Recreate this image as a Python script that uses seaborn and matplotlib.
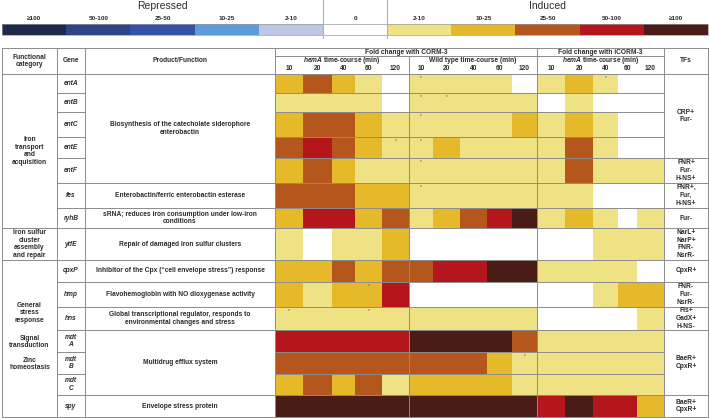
import numpy as np
import matplotlib
matplotlib.use("Agg")
import matplotlib.pyplot as plt
from matplotlib.colors import ListedColormap
import seaborn as sns

sns.set_theme(style="white")
plt.rcParams["font.family"] = ["Liberation Sans", "DejaVu Sans"]
plt.rcParams["mathtext.fontset"] = "custom"
plt.rcParams["mathtext.rm"] = "Liberation Sans:bold"
plt.rcParams["mathtext.bfit"] = "Liberation Sans:italic:bold"

# fold-change class: 0 none, 1 = 2-10, 2 = 10-25, 3 = 25-50, 4 = 50-100, 5 = >=100 (negative = repressed)
genes = ["entA", "entB", "entC", "entE", "entF", "fes", "ryhB", "ytfE", "cpxP",
         "hmp", "hns", "mdt\nA", "mdt\nB", "mdt\nC", "spy"]
times = ["10", "20", "40", "60", "120"]
corm3_hema = [
    [2, 3, 2, 1, 0], [1, 1, 1, 1, 0], [2, 3, 3, 2, 1], [3, 4, 3, 2, 1], [2, 3, 2, 1, 1],
    [3, 3, 3, 2, 2], [2, 4, 4, 2, 3], [1, 0, 1, 1, 2], [2, 2, 3, 2, 3], [2, 1, 2, 2, 4],
    [1, 1, 1, 1, 1], [4, 4, 4, 4, 4], [3, 3, 3, 3, 3], [2, 3, 2, 3, 1], [5, 5, 5, 5, 5],
]
corm3_wt = [
    [1, 1, 1, 1, 0], [1, 1, 1, 1, 1], [1, 1, 1, 1, 2], [1, 2, 1, 1, 1], [1, 1, 1, 1, 1],
    [1, 1, 1, 1, 1], [1, 2, 3, 4, 5], [0, 0, 0, 0, 0], [3, 4, 4, 5, 5], [0, 0, 0, 0, 0],
    [1, 1, 1, 1, 1], [5, 5, 5, 5, 3], [3, 3, 3, 2, 1], [2, 2, 2, 2, 1], [5, 5, 5, 5, 5],
]
icorm3_hema = [
    [1, 2, 1, 0, 0], [0, 1, 0, 0, 0], [1, 2, 1, 0, 0], [1, 3, 1, 0, 0], [1, 3, 1, 1, 1],
    [1, 1, 0, 0, 0], [1, 2, 1, 0, 1], [0, 0, 1, 1, 1], [1, 1, 1, 1, 0], [0, 0, 1, 2, 2],
    [0, 0, 0, 0, 1], [1, 1, 1, 1, 1], [1, 1, 1, 1, 1], [1, 1, 1, 1, 1], [4, 5, 4, 4, 2],
]
# cells marked with an asterisk (row, column)
starred = [(0, 5), (0, 12), (1, 5), (1, 6), (2, 5), (3, 4), (3, 5), (4, 5), (5, 5),
           (9, 3), (10, 0), (10, 3), (12, 9)]

legend_codes = [-5, -4, -3, -2, -1, 0, 1, 2, 3, 4, 5]
legend_labels = ["≥100", "50-100", "25-50", "10-25", "2-10", "0",
                 "2-10", "10-25", "25-50", "50-100", "≥100"]
colors = ["#1e2a4b", "#2e4484", "#3453a8", "#5e9bda", "#bcc8e6", "#ffffff",
          "#efe284", "#e5b92a", "#b5561d", "#b4161c", "#4a1c18"]

categories = [("Iron\ntransport\nand\nacquisition", 0, 7),
              ("Iron sulfur\ncluster\nassembly\nand repair", 7, 8)]
stress_labels = [("General\nstress\nresponse", 313), ("Signal\ntransduction", 342),
                 ("Zinc\nhomeostasis", 364)]
functions = [("Biosynthesis of the catecholate siderophore\nenterobactin", 0, 5),
             ("Enterobactin/ferric enterobactin esterase", 5, 6),
             ("sRNA; reduces iron consumption under low-iron\nconditions", 6, 7),
             ("Repair of damaged iron sulfur clusters", 7, 8),
             ("Inhibitor of the Cpx (“cell envelope stress”) response", 8, 9),
             ("Flavohemoglobin with NO dioxygenase activity", 9, 10),
             ("Global transcriptional regulator, responds to\nenvironmental changes and stress", 10, 11),
             ("Multidrug efflux system", 11, 14),
             ("Envelope stress protein", 14, 15)]
tfs = [("CRP+\nFur-", 0, 4), ("FNR+\nFur-\nH-NS+", 4, 5), ("FNR+,\nFur,\nH-NS+", 5, 6),
       ("Fur-", 6, 7), ("NarL+\nNarP+\nFNR-\nNsrR-", 7, 8), ("CpxR+", 8, 9),
       ("FNR-\nFur-\nNsrR-", 9, 10), ("Fis+\nGadX+\nH-NS-", 10, 11),
       ("BaeR+\nCpxR+", 11, 14), ("BaeR+\nCpxR+", 14, 15)]

# layout in pixels
row_h = np.array([19, 19, 25, 21, 25, 25, 20, 32, 22, 25, 23, 22, 22, 21, 22])
col_w = np.array([28, 29, 23, 27, 27, 24, 27, 27, 25, 25, 28, 28, 25, 19, 27])
top, left = 74, 275
y_edges = top + np.concatenate([[0], np.cumsum(row_h)])
x_edges = left + np.concatenate([[0], np.cumsum(col_w)])
W, H = 710, 418
txt = "#2b2b2b"
lc = "#8c8c8c"
fs = 4.8

cmap = ListedColormap(colors)
grid = np.hstack([np.array(corm3_hema), np.array(corm3_wt), np.array(icorm3_hema)])
big = np.repeat(np.repeat(grid, row_h, axis=0), col_w, axis=1)

fig = plt.figure(figsize=(W / 100, H / 100), dpi=100)
hm = fig.add_axes([left / W, 1 - y_edges[-1] / H, col_w.sum() / W, row_h.sum() / H])
sns.heatmap(big, ax=hm, cmap=cmap, vmin=-5.5, vmax=5.5, cbar=False,
            xticklabels=False, yticklabels=False)

lg = fig.add_axes([2 / W, 1 - 35 / H, 706 / W, 11 / H])
sns.heatmap(np.array([legend_codes]), ax=lg, cmap=cmap, vmin=-5.5, vmax=5.5,
            cbar=False, xticklabels=False, yticklabels=False)

tab = fig.add_axes([0, 0, 1, 1], zorder=3)
tab.set_xlim(0, W)
tab.set_ylim(H, 0)
tab.axis("off")

# legend texts
seg = 706 / 11
for i, lab in enumerate(legend_labels):
    tab.text(2 + seg * (i + 0.5), 18, lab, ha="center", va="center", fontsize=4.6,
             fontweight="bold", color=txt)
tab.text(2 + seg * 2.5, 6, "Repressed", ha="center", va="center", fontsize=7.5, color=txt)
tab.text(2 + seg * 8.5, 6, "Induced", ha="center", va="center", fontsize=7.5, color=txt)
for xv in (2 + seg * 5, 2 + seg * 6):
    tab.plot([xv, xv], [0, 38], color="#b0b0b0", lw=0.8)
tab.add_patch(plt.Rectangle((2, 24), 706, 11, fill=False, ec="#9a9a9a", lw=0.5))

# table frame
y0, y1 = 48, y_edges[-1]
for xv in (2, 57, 85, 275, 537, 664, 708):
    tab.plot([xv, xv], [y0, y1], color=lc, lw=0.7)
tab.plot([x_edges[5], x_edges[5]], [56, y1], color=lc, lw=0.7)
for yv in (48, 74, y1):
    tab.plot([2, 708], [yv, yv], color=lc, lw=0.7)
tab.plot([275, 664], [56, 56], color=lc, lw=0.7)

fn_breaks = {e for _, a, b in functions for e in (a, b)}
tf_breaks = {e for _, a, b in tfs for e in (a, b)}
for k in range(1, len(genes)):
    yv = y_edges[k]
    tab.plot([57, 85], [yv, yv], color=lc, lw=0.7)
    tab.plot([275, 664], [yv, yv], color=lc, lw=0.7)
    if k in (7, 8):
        tab.plot([2, 57], [yv, yv], color=lc, lw=0.7)
    if k in fn_breaks:
        tab.plot([85, 275], [yv, yv], color=lc, lw=0.7)
    if k in tf_breaks:
        tab.plot([664, 708], [yv, yv], color=lc, lw=0.7)

# headers
hkw = dict(ha="center", va="center", fontsize=fs, fontweight="bold", color=txt)
tab.text(29.5, 61, "Functional\ncategory", linespacing=1.1, **hkw)
tab.text(71, 61, "Gene", **hkw)
tab.text(180, 61, "Product/Function", **hkw)
tab.text(686, 61, "TFs", **hkw)
tab.text((275 + 537) / 2, 52, "Fold change with CORM-3", **hkw)
tab.text((537 + 664) / 2, 52, "Fold change with iCORM-3", **hkw)
for a, b, lab in [(0, 5, r"$\mathbfit{hemA}$ time-course (min)"),
                  (5, 10, "Wild type time-course (min)"),
                  (10, 15, r"$\mathbfit{hemA}$ time-course (min)")]:
    tab.text((x_edges[a] + x_edges[b]) / 2, 61, lab, **hkw)
for j in range(15):
    tab.text((x_edges[j] + x_edges[j + 1]) / 2, 68.5, times[j % 5], **hkw)

# body texts
bkw = dict(ha="center", va="center", fontsize=fs, fontweight="bold", color=txt,
           linespacing=1.15)
for i, g in enumerate(genes):
    tab.text(71, (y_edges[i] + y_edges[i + 1]) / 2, g, fontstyle="italic", **bkw)
for lab, a, b in categories:
    tab.text(29.5, (y_edges[a] + y_edges[b]) / 2, lab, **bkw)
for lab, yv in stress_labels:
    tab.text(29.5, yv, lab, **bkw)
for lab, a, b in functions:
    tab.text(180, (y_edges[a] + y_edges[b]) / 2, lab, **bkw)
for lab, a, b in tfs:
    tab.text(686, (y_edges[a] + y_edges[b]) / 2, lab, **bkw)
for r, c in starred:
    tab.text((x_edges[c] + x_edges[c + 1]) / 2, y_edges[r] + 1.5, "*", ha="center",
             va="top", fontsize=3.5, color="#555555")

fig.savefig("out.png", dpi=100)
